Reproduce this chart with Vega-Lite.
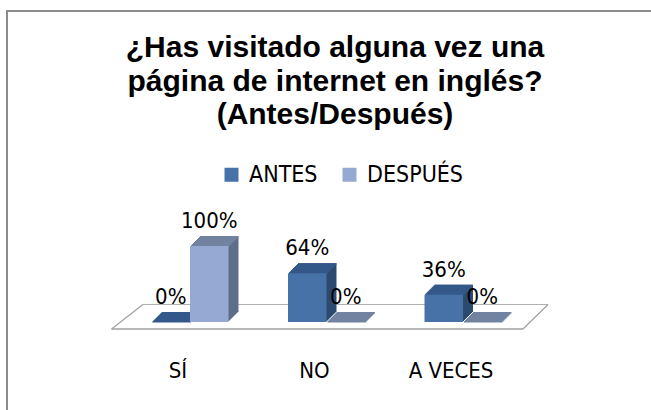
{
  "$schema": "https://vega.github.io/schema/vega-lite/v6.json",
  "width": 646,
  "height": 401,
  "autosize": "none",
  "padding": {"left": 7, "top": 11, "right": 0, "bottom": 0},
  "background": "white",
  "config": {
    "view": {"stroke": "#8c8c8c", "strokeWidth": 2},
    "axisX": {"labelFont": "DejaVu Sans Condensed, Liberation Sans, sans-serif", "labelFontSize": 22, "labelColor": "#000000", "labelAngle": 0, "ticks": false, "domain": false, "grid": false, "labelPadding": -35, "labelBaseline": "alphabetic", "labelOffset": -12, "title": null},
    "legend": {"orient": "none", "legendX": 213, "legendY": 152, "direction": "horizontal", "symbolType": "square", "symbolSize": 196, "symbolStrokeWidth": 0, "labelFont": "DejaVu Sans Condensed, Liberation Sans, sans-serif", "labelFontSize": 23, "labelColor": "#000000", "labelOffset": 6, "columnPadding": 20, "padding": 0, "title": null}
  },
  "title": {
    "text": ["¿Has visitado alguna vez una", "página de internet en inglés?", "(Antes/Después)"],
    "font": "Liberation Sans", "fontSize": 30, "fontWeight": "bold", "color": "#000000",
    "anchor": "middle", "frame": "group", "baseline": "top", "lineHeight": 33.5, "offset": 0, "dx": 5, "dy": 119
  },
  "data": {"values": [
    {"cat": "SÍ", "serie": "ANTES", "pct": 0},
    {"cat": "SÍ", "serie": "DESPUÉS", "pct": 1},
    {"cat": "NO", "serie": "ANTES", "pct": 0.64},
    {"cat": "NO", "serie": "DESPUÉS", "pct": 0},
    {"cat": "A VECES", "serie": "ANTES", "pct": 0.36},
    {"cat": "A VECES", "serie": "DESPUÉS", "pct": 0}
  ]},
  "layer": [
    {"data": {"values": [{}]}, "mark": {"type": "rule", "color": "#a0a0a0", "strokeWidth": 1.5, "xOffset": -78.5, "x2Offset": 60, "yOffset": 7},
     "encoding": {"x": {"datum": "SÍ", "type": "nominal"}, "x2": {"datum": "A VECES"}, "y": {"datum": 0, "type": "quantitative", "axis": null}}},
    {"data": {"values": [{}]}, "mark": {"type": "rule", "color": "#b0b0b0", "strokeWidth": 1, "xOffset": -47, "x2Offset": 85, "yOffset": -17.5},
     "encoding": {"x": {"datum": "SÍ", "type": "nominal"}, "x2": {"datum": "A VECES"}, "y": {"datum": 0, "type": "quantitative", "axis": null}}},
    {"data": {"values": [{}]}, "mark": {"type": "rule", "color": "#a0a0a0", "strokeWidth": 1.2, "xOffset": -78.5, "x2Offset": -47, "yOffset": 7, "y2Offset": -17.5},
     "encoding": {"x": {"datum": "SÍ", "type": "nominal"}, "x2": {"datum": "SÍ"}, "y": {"datum": 0, "type": "quantitative", "axis": null}, "y2": {"datum": 0}}},
    {"data": {"values": [{}]}, "mark": {"type": "rule", "color": "#a0a0a0", "strokeWidth": 1.2, "xOffset": 60, "x2Offset": 85, "yOffset": 7, "y2Offset": -17.5},
     "encoding": {"x": {"datum": "A VECES", "type": "nominal"}, "x2": {"datum": "A VECES"}, "y": {"datum": 0, "type": "quantitative", "axis": null}, "y2": {"datum": 0}}},
    {
      "encoding": {
        "x": {"field": "cat", "type": "nominal", "sort": ["SÍ", "NO", "A VECES"], "scale": {"range": [8, 631], "paddingInner": 0.4359, "paddingOuter": 1, "align": 0.5}},
        "y": {"field": "pct", "type": "quantitative", "scale": {"domain": [-1.1842, 4.0921], "nice": false, "zero": false}, "axis": null}
      },
      "resolve": {"scale": {"xOffset": "independent"}},
      "layer": [
        {"mark": {"type": "bar", "yOffset": -1, "y2Offset": -1}, "encoding": {"xOffset": {"field": "serie", "type": "nominal", "sort": ["ANTES", "DESPUÉS"], "scale": {"range": [1, 78], "paddingInner": 0, "paddingOuter": 0}}, "fill": {"condition": {"test": "datum.serie === 'ANTES'", "value": "#2c4a70"}, "value": "#5e6d8a"}}},
        {"mark": {"type": "bar", "yOffset": -2, "y2Offset": -2}, "encoding": {"xOffset": {"field": "serie", "type": "nominal", "sort": ["ANTES", "DESPUÉS"], "scale": {"range": [2, 79], "paddingInner": 0, "paddingOuter": 0}}, "fill": {"condition": {"test": "datum.serie === 'ANTES'", "value": "#2c4a70"}, "value": "#5e6d8a"}}},
        {"mark": {"type": "bar", "yOffset": -3, "y2Offset": -3}, "encoding": {"xOffset": {"field": "serie", "type": "nominal", "sort": ["ANTES", "DESPUÉS"], "scale": {"range": [3, 80], "paddingInner": 0, "paddingOuter": 0}}, "fill": {"condition": {"test": "datum.serie === 'ANTES'", "value": "#2c4a70"}, "value": "#5e6d8a"}}},
        {"mark": {"type": "bar", "yOffset": -4, "y2Offset": -4}, "encoding": {"xOffset": {"field": "serie", "type": "nominal", "sort": ["ANTES", "DESPUÉS"], "scale": {"range": [4, 81], "paddingInner": 0, "paddingOuter": 0}}, "fill": {"condition": {"test": "datum.serie === 'ANTES'", "value": "#2c4a70"}, "value": "#5e6d8a"}}},
        {"mark": {"type": "bar", "yOffset": -5, "y2Offset": -5}, "encoding": {"xOffset": {"field": "serie", "type": "nominal", "sort": ["ANTES", "DESPUÉS"], "scale": {"range": [5, 82], "paddingInner": 0, "paddingOuter": 0}}, "fill": {"condition": {"test": "datum.serie === 'ANTES'", "value": "#2c4a70"}, "value": "#5e6d8a"}}},
        {"mark": {"type": "bar", "yOffset": -6, "y2Offset": -6}, "encoding": {"xOffset": {"field": "serie", "type": "nominal", "sort": ["ANTES", "DESPUÉS"], "scale": {"range": [6, 83], "paddingInner": 0, "paddingOuter": 0}}, "fill": {"condition": {"test": "datum.serie === 'ANTES'", "value": "#2c4a70"}, "value": "#5e6d8a"}}},
        {"mark": {"type": "bar", "yOffset": -7, "y2Offset": -7}, "encoding": {"xOffset": {"field": "serie", "type": "nominal", "sort": ["ANTES", "DESPUÉS"], "scale": {"range": [7, 84], "paddingInner": 0, "paddingOuter": 0}}, "fill": {"condition": {"test": "datum.serie === 'ANTES'", "value": "#2c4a70"}, "value": "#5e6d8a"}}},
        {"mark": {"type": "bar", "yOffset": -8, "y2Offset": -8}, "encoding": {"xOffset": {"field": "serie", "type": "nominal", "sort": ["ANTES", "DESPUÉS"], "scale": {"range": [8, 85], "paddingInner": 0, "paddingOuter": 0}}, "fill": {"condition": {"test": "datum.serie === 'ANTES'", "value": "#2c4a70"}, "value": "#5e6d8a"}}},
        {"mark": {"type": "bar", "yOffset": -9, "y2Offset": -9}, "encoding": {"xOffset": {"field": "serie", "type": "nominal", "sort": ["ANTES", "DESPUÉS"], "scale": {"range": [9, 86], "paddingInner": 0, "paddingOuter": 0}}, "fill": {"condition": {"test": "datum.serie === 'ANTES'", "value": "#2c4a70"}, "value": "#5e6d8a"}}},
        {"mark": {"type": "bar", "yOffset": -10, "y2Offset": -10}, "encoding": {"xOffset": {"field": "serie", "type": "nominal", "sort": ["ANTES", "DESPUÉS"], "scale": {"range": [10, 87], "paddingInner": 0, "paddingOuter": 0}}, "fill": {"condition": {"test": "datum.serie === 'ANTES'", "value": "#2c4a70"}, "value": "#5e6d8a"}}},
        {"mark": {"type": "bar", "yOffset": -1, "y2Offset": 0.5}, "encoding": {"y2": {"field": "pct"}, "xOffset": {"field": "serie", "type": "nominal", "sort": ["ANTES", "DESPUÉS"], "scale": {"range": [1, 78], "paddingInner": 0, "paddingOuter": 0}}, "fill": {"condition": {"test": "datum.serie === 'ANTES'", "value": "#35588a"}, "value": "#7283a1"}}},
        {"mark": {"type": "bar", "yOffset": -2, "y2Offset": -0.5}, "encoding": {"y2": {"field": "pct"}, "xOffset": {"field": "serie", "type": "nominal", "sort": ["ANTES", "DESPUÉS"], "scale": {"range": [2, 79], "paddingInner": 0, "paddingOuter": 0}}, "fill": {"condition": {"test": "datum.serie === 'ANTES'", "value": "#35588a"}, "value": "#7283a1"}}},
        {"mark": {"type": "bar", "yOffset": -3, "y2Offset": -1.5}, "encoding": {"y2": {"field": "pct"}, "xOffset": {"field": "serie", "type": "nominal", "sort": ["ANTES", "DESPUÉS"], "scale": {"range": [3, 80], "paddingInner": 0, "paddingOuter": 0}}, "fill": {"condition": {"test": "datum.serie === 'ANTES'", "value": "#35588a"}, "value": "#7283a1"}}},
        {"mark": {"type": "bar", "yOffset": -4, "y2Offset": -2.5}, "encoding": {"y2": {"field": "pct"}, "xOffset": {"field": "serie", "type": "nominal", "sort": ["ANTES", "DESPUÉS"], "scale": {"range": [4, 81], "paddingInner": 0, "paddingOuter": 0}}, "fill": {"condition": {"test": "datum.serie === 'ANTES'", "value": "#35588a"}, "value": "#7283a1"}}},
        {"mark": {"type": "bar", "yOffset": -5, "y2Offset": -3.5}, "encoding": {"y2": {"field": "pct"}, "xOffset": {"field": "serie", "type": "nominal", "sort": ["ANTES", "DESPUÉS"], "scale": {"range": [5, 82], "paddingInner": 0, "paddingOuter": 0}}, "fill": {"condition": {"test": "datum.serie === 'ANTES'", "value": "#35588a"}, "value": "#7283a1"}}},
        {"mark": {"type": "bar", "yOffset": -6, "y2Offset": -4.5}, "encoding": {"y2": {"field": "pct"}, "xOffset": {"field": "serie", "type": "nominal", "sort": ["ANTES", "DESPUÉS"], "scale": {"range": [6, 83], "paddingInner": 0, "paddingOuter": 0}}, "fill": {"condition": {"test": "datum.serie === 'ANTES'", "value": "#35588a"}, "value": "#7283a1"}}},
        {"mark": {"type": "bar", "yOffset": -7, "y2Offset": -5.5}, "encoding": {"y2": {"field": "pct"}, "xOffset": {"field": "serie", "type": "nominal", "sort": ["ANTES", "DESPUÉS"], "scale": {"range": [7, 84], "paddingInner": 0, "paddingOuter": 0}}, "fill": {"condition": {"test": "datum.serie === 'ANTES'", "value": "#35588a"}, "value": "#7283a1"}}},
        {"mark": {"type": "bar", "yOffset": -8, "y2Offset": -6.5}, "encoding": {"y2": {"field": "pct"}, "xOffset": {"field": "serie", "type": "nominal", "sort": ["ANTES", "DESPUÉS"], "scale": {"range": [8, 85], "paddingInner": 0, "paddingOuter": 0}}, "fill": {"condition": {"test": "datum.serie === 'ANTES'", "value": "#35588a"}, "value": "#7283a1"}}},
        {"mark": {"type": "bar", "yOffset": -9, "y2Offset": -7.5}, "encoding": {"y2": {"field": "pct"}, "xOffset": {"field": "serie", "type": "nominal", "sort": ["ANTES", "DESPUÉS"], "scale": {"range": [9, 86], "paddingInner": 0, "paddingOuter": 0}}, "fill": {"condition": {"test": "datum.serie === 'ANTES'", "value": "#35588a"}, "value": "#7283a1"}}},
        {"mark": {"type": "bar", "yOffset": -10, "y2Offset": -8.5}, "encoding": {"y2": {"field": "pct"}, "xOffset": {"field": "serie", "type": "nominal", "sort": ["ANTES", "DESPUÉS"], "scale": {"range": [10, 87], "paddingInner": 0, "paddingOuter": 0}}, "fill": {"condition": {"test": "datum.serie === 'ANTES'", "value": "#35588a"}, "value": "#7283a1"}}},
        {"mark": {"type": "bar"}, "encoding": {"xOffset": {"field": "serie", "type": "nominal", "sort": ["ANTES", "DESPUÉS"], "scale": {"range": [0, 77], "paddingInner": 0, "paddingOuter": 0}}, "color": {"field": "serie", "type": "nominal", "sort": ["ANTES", "DESPUÉS"], "scale": {"domain": ["ANTES", "DESPUÉS"], "range": ["#4672a8", "#95a9d2"]}}}},
        {"mark": {"type": "text", "dy": -25, "baseline": "middle", "align": "center", "font": "DejaVu Sans Condensed, Liberation Sans, sans-serif", "fontSize": 22, "color": "#000000"},
         "encoding": {"xOffset": {"field": "serie", "type": "nominal", "sort": ["ANTES", "DESPUÉS"], "scale": {"type": "point", "range": [19.25, 57.75], "padding": 0}}, "text": {"field": "pct", "type": "quantitative", "format": ".0%"}}}
      ]
    }
  ]
}
